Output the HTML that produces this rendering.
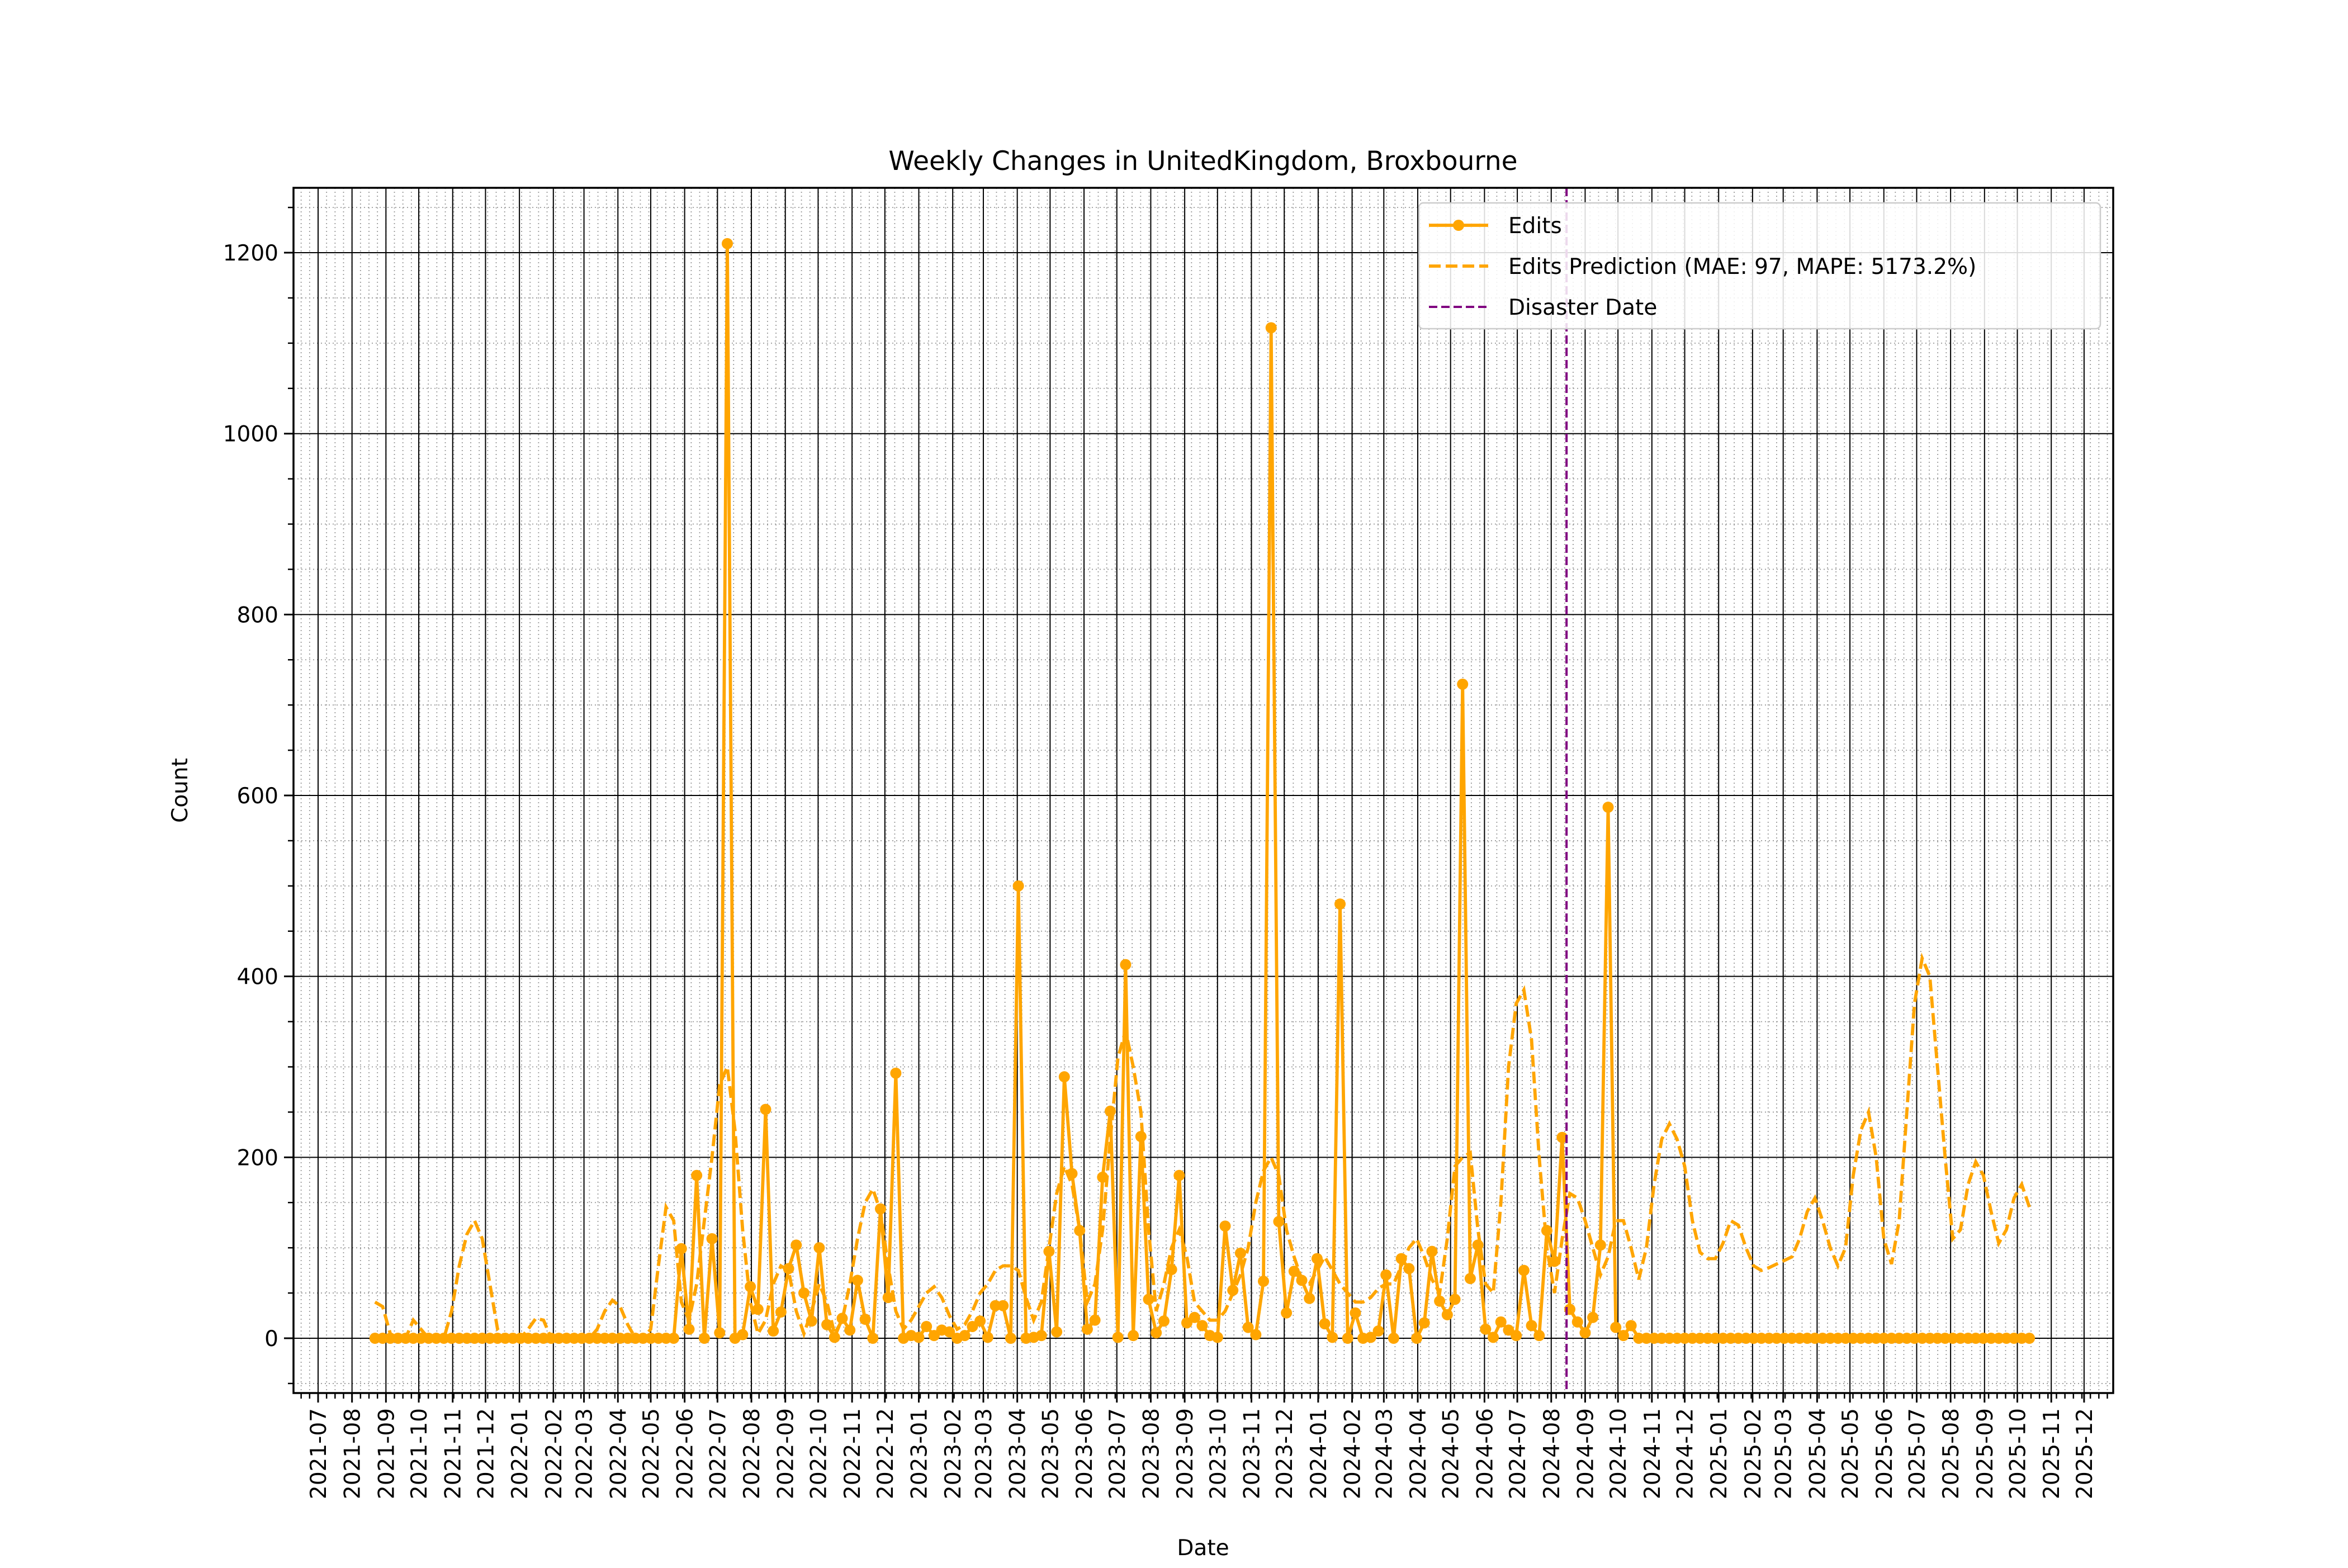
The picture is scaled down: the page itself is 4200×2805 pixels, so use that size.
<!DOCTYPE html>
<html><head><meta charset="utf-8"><style>
html,body{margin:0;padding:0;background:#fff}
svg text{font-family:"DejaVu Sans","Liberation Sans",sans-serif;fill:#000}
</style></head><body>
<svg id="chart" width="4200" height="2800" viewBox="0 0 4200 2800" xmlns="http://www.w3.org/2000/svg">
<rect width="4200" height="2800" fill="#fff"/>
<g id="grid"></g>
<g id="series"></g>
<g id="axes"></g>
<text x="2152" y="304" font-size="47" text-anchor="middle">Weekly Changes in UnitedKingdom, Broxbourne</text>
<text x="2152" y="2782" font-size="39" text-anchor="middle">Date</text>
<text x="0" y="0" font-size="39" text-anchor="middle" transform="translate(335,1414) rotate(-90)">Count</text>
<g id="legend"></g>
</svg>
<script>
const startDate = "2021-08-22";
const edits = [0,0,0,0,0,0,0,0,0,0,0,0,0,0,0,0,0,0,0,0,0,0,0,0,0,0,0,0,0,0,0,0,0,0,0,0,0,0,0,0,
99,10,180,0,110,6,1210,0,4,57,32,253,8,29,77,103,50,19,100,15,1,22,9,64,21,0,143,45,293,0,
3,1,13,3,9,7,0,3,13,19,1,36,36,0,500,0,1,3,96,7,289,182,119,10,20,178,251,1,413,3,
223,43,6,19,76,180,17,23,14,3,1,124,53,94,12,4,63,1117,129,28,74,64,44,88,16,1,480,0,28,0,
1,8,70,0,88,77,0,17,96,41,26,43,723,66,103,10,1,18,9,3,75,14,3,119,85,222,32,18,6,23,
103,587,12,3,14,
0,0,0,0,0,0,0,0,0,0,0,0,0,0,0,0,0,0,0,0,0,0,0,0,0,0,0,0,0,0,0,0,0,0,0,0,0,0,0,0,0,0,0,0,0,0,0,0,0,0,0,0];
const prediction = [40,35,5,0,0,20,10,0,0,0,30,80,115,130,110,60,10,0,0,0,10,22,20,0,0,0,0,0,0,10,30,42,35,15,0,0,10,80,145,130,
40,20,60,130,200,280,300,230,120,40,5,20,60,80,75,30,5,30,60,40,5,20,60,110,150,165,140,80,30,10,
20,35,50,57,45,25,10,15,30,50,60,75,80,80,75,45,20,40,100,160,190,170,120,40,60,120,220,310,340,300,
250,120,30,60,100,120,90,40,30,20,20,30,50,70,100,150,185,200,180,120,90,65,60,75,90,75,60,50,40,40,
45,55,60,60,80,100,110,90,65,50,110,190,200,205,120,60,50,150,300,370,385,330,200,100,50,110,160,155,130,100,
70,90,130,130,100,65,100,170,220,237,220,190,130,95,88,88,105,130,125,100,80,75,78,82,86,90,110,140,155,130,
100,80,100,180,230,250,200,110,82,130,250,370,420,400,300,200,110,120,170,195,180,140,105,120,155,170,145];
const disasterDate = "2024-08-15";
const yTicks = [0,200,400,600,800,1000,1200];
const monthLabels = [];
for (let y=2021;y<=2025;y++){for(let m=1;m<=12;m++){if(y===2021&&m<7)continue;monthLabels.push(y+"-"+String(m).padStart(2,"0"));}}

const NS="http://www.w3.org/2000/svg";
const L=525,R=3780,T=336,B=2492;
const ORIGIN=Date.UTC(2021,6,1), PXDAY=1.9572, X0=569;
function dayOf(s){const p=s.split("-").map(Number);return (Date.UTC(p[0],p[1]-1,p[2]||1)-ORIGIN)/86400000;}
function xs(days){return X0+days*PXDAY;}
function ys(v){return 2394-v*1.6183;}
function mk(tag,attrs,parent){const e=document.createElementNS(NS,tag);for(const k in attrs)e.setAttribute(k,attrs[k]);parent.appendChild(e);return e;}
const grid=document.getElementById("grid"),axes=document.getElementById("axes"),series=document.getElementById("series"),legend=document.getElementById("legend");

// minor x grid (uniform step from first major)
const minorStep=31/4*PXDAY;
for(let x=X0-Math.floor((X0-L)/minorStep)*minorStep;x<=R;x+=minorStep){
  const g=mk("line",{x1:x,x2:x,y1:T,y2:B,stroke:"#999","stroke-width":1.8,"stroke-dasharray":"2,5"},grid);
  
  
  const t=mk("line",{x1:x,x2:x,y1:B,y2:B+10,stroke:"#000","stroke-width":2.5},axes);
  
  
}
// minor y
for(let v=-50;v<=1250;v+=50){
  if(v%200===0)continue;
  const y=ys(v);
  const g=mk("line",{x1:L,x2:R,y1:y,y2:y,stroke:"#999","stroke-width":1.8,"stroke-dasharray":"2,5"},grid);
  
  
  const t=mk("line",{x1:L-10,x2:L,y1:y,y2:y,stroke:"#000","stroke-width":2.5},axes);
  
  
}
// major y
yTicks.forEach(v=>{
  const y=ys(v);
  const g=mk("line",{x1:L,x2:R,y1:y,y2:y,stroke:"#000","stroke-width":2},grid);
  
  
  const t=mk("line",{x1:L-17,x2:L,y1:y,y2:y,stroke:"#000","stroke-width":3},axes);
  
  
  const lb=mk("text",{x:L-27,y:y+14,"font-size":39,"text-anchor":"end"},axes);
  lb.textContent=v;
  
  
});
// major x
monthLabels.forEach(m=>{
  const x=xs(dayOf(m));
  const g=mk("line",{x1:x,x2:x,y1:T,y2:B,stroke:"#000","stroke-width":2},grid);
  
  
  const t=mk("line",{x1:x,x2:x,y1:B,y2:B+17,stroke:"#000","stroke-width":3},axes);
  
  
  const lb=mk("text",{x:0,y:0,"font-size":39,"text-anchor":"end",transform:`translate(${x+14},${B+27}) rotate(-90)`},axes);
  lb.textContent=m;
  
  
});
const frame=mk("rect",{x:L,y:T,width:R-L,height:B-T,fill:"none",stroke:"#000","stroke-width":3.5},axes);



// series
const d0=dayOf(startDate);
const clip=mk("clipPath",{id:"pc"},series);mk("rect",{x:L,y:T,width:R-L,height:B-T},clip);
const sg=mk("g",{"clip-path":"url(#pc)"},series);
const ptsE=edits.map((v,i)=>[xs(d0+7*i),ys(v)]);
const ptsP=prediction.map((v,i)=>[xs(d0+7*i),ys(v)]);
const pl=mk("polyline",{points:ptsE.map(p=>p.join(",")).join(" "),fill:"none",stroke:"#FFA500","stroke-width":5.8,"stroke-linejoin":"round"},sg);


ptsE.forEach(p=>{
  const c=mk("circle",{cx:p[0],cy:p[1],r:10,fill:"#FFA500"},sg);
  
  
});
const pp=mk("polyline",{points:ptsP.map(p=>p.join(",")).join(" "),fill:"none",stroke:"#FFA500","stroke-width":5.8,"stroke-dasharray":"21,9"},sg);


const dx=xs(dayOf(disasterDate));
const dl=mk("line",{x1:dx,x2:dx,y1:T,y2:B,stroke:"#800080","stroke-width":4,"stroke-dasharray":"15,7"},sg);



// legend
const lbox=mk("rect",{x:2538,y:363,width:1219,height:225,rx:8,fill:"#fff","fill-opacity":0.85,stroke:"#ccc","stroke-width":2.5},legend);


const entries=[["Edits","solid"],["Edits Prediction (MAE: 97, MAPE: 5173.2%)","dash"],["Disaster Date","purple"]];
entries.forEach((e,k)=>{
  const y=403+k*73;
  const g=mk("g",{},legend);
  
  
  if(e[1]==="solid"){mk("line",{x1:2556,x2:2662,y1:y,y2:y,stroke:"#FFA500","stroke-width":5.8},g);mk("circle",{cx:2609,cy:y,r:10,fill:"#FFA500"},g);}
  else if(e[1]==="dash"){mk("line",{x1:2556,x2:2662,y1:y,y2:y,stroke:"#FFA500","stroke-width":5.8,"stroke-dasharray":"21,9"},g);}
  else {mk("line",{x1:2556,x2:2662,y1:y,y2:y,stroke:"#800080","stroke-width":4,"stroke-dasharray":"15,7"},g);}
  const t=mk("text",{x:2698,y:y+14,"font-size":39},g);t.textContent=e[0];
});
</script>
</body></html>
